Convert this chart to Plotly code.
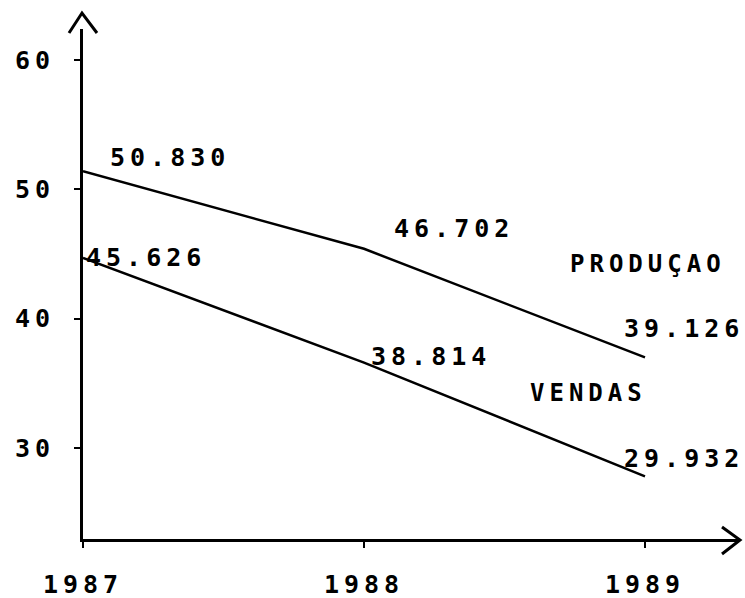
import plotly.graph_objects as go

years = [1987, 1988, 1989]
producao = [51.4, 45.4, 37.0]
vendas = [44.7, 36.6, 27.8]
producao_labels = ["50.830", "46.702", "39.126"]
vendas_labels = ["45.626", "38.814", "29.932"]
series_names = ["PRODUÇAO", "VENDAS"]
y_ticks = [30, 40, 50, 60]

FONT = "DejaVu Sans Mono"

fig = go.Figure()
for vals in (producao, vendas):
    fig.add_trace(go.Scatter(x=years, y=vals, mode="lines",
                             line=dict(color="black", width=2.5),
                             showlegend=False, hoverinfo="skip"))

# label positions (data coordinates of text centres)
prod_pos = [(1987.31, 52.5), (1988.32, 47.0), (1989.14, 39.2)]
vend_pos = [(1987.224, 44.7), (1988.24, 37.05), (1989.14, 29.2)]
name_pos = [(1989.01, 44.2), (1988.8, 34.25)]

anns = []
for txt, (x, y) in zip(producao_labels + vendas_labels, prod_pos + vend_pos):
    anns.append(dict(x=x, y=y, text=txt, showarrow=False, xref="x", yref="y",
                     font=dict(family=FONT, size=25, color="black", weight="bold")))
for txt, (x, y) in zip(series_names, name_pos):
    anns.append(dict(x=x, y=y, text=txt, showarrow=False, xref="x", yref="y",
                     font=dict(family=FONT, size=24, color="black", weight="bold")))

# arrow heads (decoration)
L, R, T, B = 83, 738, 29, 539
W, H = R - L, B - T
def px(x, y):
    return ((x - L) / W, (B - y) / H)
def path(pts):
    s = ""
    for i, (x, y) in enumerate(pts):
        a, b = px(x, y)
        s += ("M" if i == 0 else "L") + f"{a:.5f},{b:.5f} "
    return s
shapes = [
    dict(type="path", xref="paper", yref="paper",
         path=path([(69, 33), (82, 13), (97, 33)]),
         line=dict(color="black", width=3)),
    dict(type="path", xref="paper", yref="paper",
         path=path([(722, 527), (740, 540), (722, 554)]),
         line=dict(color="black", width=3)),
]

fig.update_layout(
    width=745, height=598,
    margin=dict(l=L, r=745 - R, t=T, b=598 - B),
    paper_bgcolor="white", plot_bgcolor="white",
    annotations=anns, shapes=shapes,
    xaxis=dict(range=[1987, 1987 + W / 281.0], tickvals=years,
               ticktext=[str(y) for y in years], automargin=False,
               showgrid=False, zeroline=False, showline=True,
               linecolor="black", linewidth=3, ticks="outside", ticklen=6,
               tickwidth=2, tickcolor="black", ticklabelstandoff=15,
               tickfont=dict(family=FONT, size=25, color="black", weight="bold")),
    yaxis=dict(range=[62.4 - H / 12.93, 62.4], tickvals=y_ticks, automargin=False,
               showgrid=False, zeroline=False, showline=True,
               linecolor="black", linewidth=3, ticks="outside", ticklen=6,
               tickwidth=2, tickcolor="black", ticklabelstandoff=14,
               tickfont=dict(family=FONT, size=25, color="black", weight="bold")),
)

post = """
document.body.style.margin = '0';
document.querySelectorAll('.annotation-text, .xtick text, .ytick text').forEach(function(e){
  e.style.letterSpacing = '5px';
});
"""
fig.write_html("out.html", post_script=post, config={"displayModeBar": False})
